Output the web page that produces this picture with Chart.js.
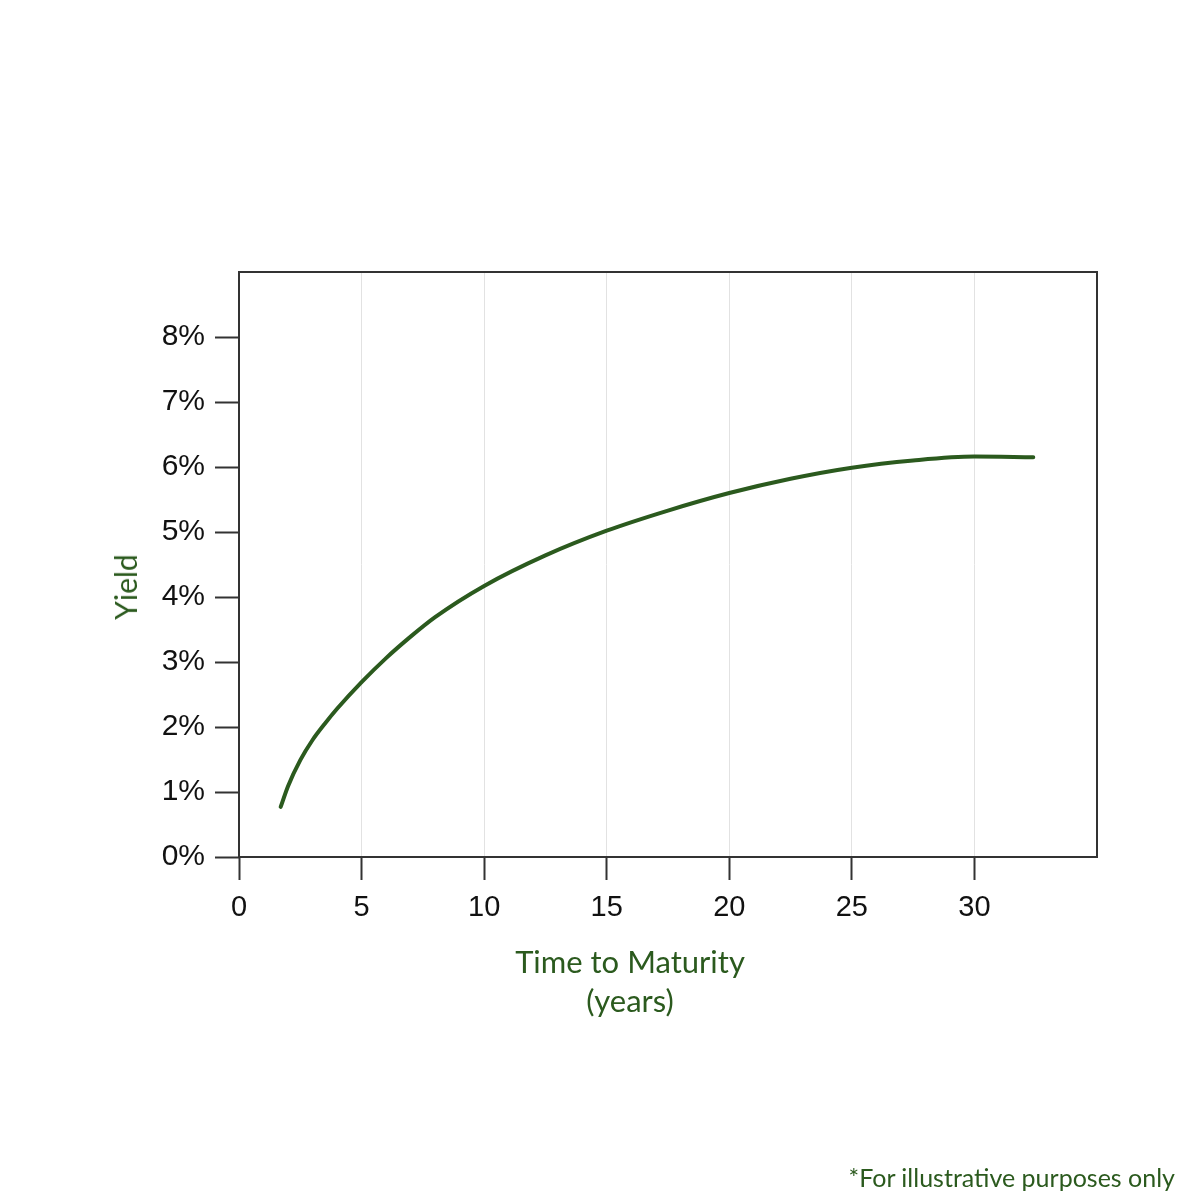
<!DOCTYPE html>
<html>
<head>
<meta charset="utf-8">
<script src="https://cdn.jsdelivr.net/npm/chart.js@4"></script>
<style>
  body { margin: 0; background: #fff; }
  #wrap { position: relative; width: 1200px; height: 1200px; }
  .lbl { position: absolute; color: #2b5a1e; font-family: Lato, "Noto Sans", sans-serif; white-space: nowrap; }
</style>
</head>
<body>
<div id="wrap">
  <canvas id="myChart" width="1200" height="1200"></canvas>
  <div class="lbl" id="xTitle" style="left:480px; top:942px; width:300px; text-align:center; font-size:31px; line-height:39px;">Time to Maturity<br>(years)</div>
  <div class="lbl" id="yTitle" style="left:125px; top:587px; font-size:30px; transform:translate(-50%,-50%) rotate(-90deg);">Yield</div>
  <div class="lbl" id="note" style="right:25px; top:1162px; font-size:25px;">*For illustrative purposes only</div>
</div>
<script>
const maturity = [1.7, 2, 2.5, 3, 3.5, 4, 5, 6, 7, 8, 10, 12.5, 15, 17.5, 20, 22.5, 25, 27.5, 30, 32.4];
const yieldPct = [0.77, 1.09, 1.49, 1.8, 2.05, 2.28, 2.69, 3.06, 3.39, 3.69, 4.17, 4.64, 5.02, 5.33, 5.60, 5.82, 5.99, 6.10, 6.16, 6.15];
const xTicks = [0, 5, 10, 15, 20, 25, 30];
const yTicks = [0, 1, 2, 3, 4, 5, 6, 7, 8];

const dark = "#333333";
const green = "#2b5a1e";

const frame = {
    id: "frame",
    afterDraw(chart) {
        const {ctx, chartArea: a} = chart;
        ctx.save();
        ctx.strokeStyle = dark;
        ctx.lineWidth = 2;
        ctx.strokeRect(a.left, a.top, a.right - a.left, a.bottom - a.top);
        ctx.restore();
    }
};

const myChart = document.getElementById("myChart");
new Chart(myChart, {
    type: "line",
    data: {
        datasets: [{
            data: maturity.map((x, i) => ({x: x, y: yieldPct[i]})),
            borderColor: green,
            borderWidth: 4,
            pointRadius: 0,
            cubicInterpolationMode: "monotone",
            borderCapStyle: "round",
            fill: false
        }]
    },
    options: {
        responsive: false,
        animation: false,
        layout: { padding: { top: 272, right: 103, left: 0, bottom: 243 } },
        plugins: { legend: { display: false }, tooltip: { enabled: false } },
        scales: {
            x: {
                type: "linear",
                min: 0,
                max: 35,
                afterFit: (s) => { s.height = 100; },
                afterBuildTicks: (s) => { s.ticks = xTicks.map(v => ({value: v})); },
                ticks: {
                    color: "#111",
                    padding: 11,
                    font: { family: "Liberation Sans", size: 29 },
                    maxRotation: 0
                },
                grid: {
                    color: "#e2e2e2",
                    lineWidth: 1,
                    tickColor: dark,
                    tickWidth: 2,
                    tickLength: 23
                },
                border: { display: false }
            },
            y: {
                min: 0,
                max: 9,
                afterFit: (s) => { s.width = 239; },
                afterBuildTicks: (s) => { s.ticks = yTicks.map(v => ({value: v})); },
                ticks: {
                    color: "#111",
                    padding: 10,
                    font: { family: "Liberation Sans", size: 30 },
                    callback: (v) => v + "%"
                },
                grid: {
                    drawOnChartArea: false,
                    tickColor: dark,
                    tickWidth: 2,
                    tickLength: 24
                },
                border: { display: false }
            }
        }
    },
    plugins: [frame]
});
</script>
</body>
</html>
